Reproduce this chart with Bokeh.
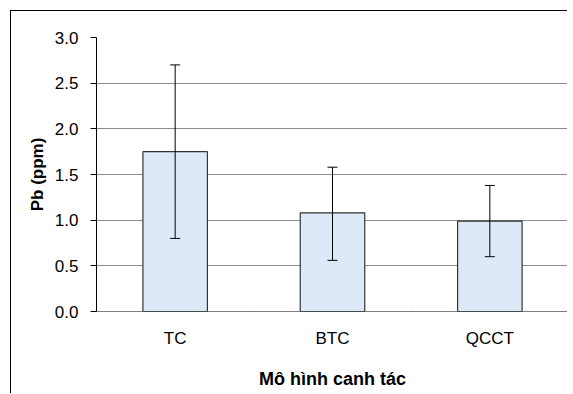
from bokeh.plotting import figure
from bokeh.models import ColumnDataSource, Whisker, FixedTicker, LinearAxis, Range1d, CustomJSTickFormatter
from bokeh.embed import file_html
from bokeh.resources import INLINE

categories = ["TC", "BTC", "QCCT"]
means = [1.75, 1.08, 0.99]
upper = [2.70, 1.58, 1.38]
lower = [0.80, 0.56, 0.60]
y_ticks = [0.0, 0.5, 1.0, 1.5, 2.0, 2.5, 3.0]
y_label = "Pb (ppm)"
x_label = "Mô hình canh tác"

xpos = [i + 0.5 for i in range(len(categories))]
src = ColumnDataSource(dict(x=xpos, top=means, upper=upper, lower=lower, cat=categories))

FONT = "Liberation Sans"

p = figure(width=557, height=383, output_backend="svg", toolbar_location=None,
           x_range=Range1d(0, len(categories)), y_range=Range1d(0, 3.0),
           min_border_left=85, min_border_right=0, min_border_top=26, min_border_bottom=83,
           x_axis_location=None)
p.styles = {"border-left": "1px solid black", "border-top": "1px solid black",
            "margin-left": "10px", "margin-top": "10px"}
p.outline_line_color = None
p.background_fill_color = "white"
p.border_fill_color = "white"

p.vbar(x="x", top="top", width=0.41, source=src, fill_color="#dde9f6",
       line_color="#333333", line_width=1.2)
w = Whisker(source=src, base="x", upper="upper", lower="lower", line_color="black",
            line_width=1, level="overlay")
w.upper_head.size = 10
w.lower_head.size = 10
w.upper_head.line_color = "black"
w.lower_head.line_color = "black"
p.add_layout(w)

# y axis
p.yaxis.ticker = FixedTicker(ticks=y_ticks)
p.yaxis.formatter = CustomJSTickFormatter(code="return tick.toFixed(1);")
p.yaxis.minor_tick_line_color = None
p.yaxis.major_tick_out = 6
p.yaxis.major_tick_in = 0
p.yaxis.major_label_standoff = 12
p.yaxis.axis_line_color = "black"
p.yaxis.major_tick_line_color = "black"
p.yaxis.major_label_text_font = FONT
p.yaxis.major_label_text_font_size = "17px"
p.yaxis.major_label_text_color = "black"
p.yaxis.axis_label = y_label
p.yaxis.axis_label_text_font = FONT
p.yaxis.axis_label_text_font_style = "bold"
p.yaxis.axis_label_text_font_size = "17px"
p.yaxis.axis_label_text_color = "black"
p.yaxis.axis_label_standoff = 5

p.ygrid.ticker = FixedTicker(ticks=y_ticks[1:])
p.ygrid.grid_line_color = "#8c8c8c"
p.ygrid.grid_line_width = 1
p.xgrid.grid_line_color = None

# x axis: boundary ticks
ax_ticks = LinearAxis(ticker=FixedTicker(ticks=list(range(len(categories) + 1))))
ax_ticks.major_label_text_font_size = "0px"
ax_ticks.major_label_text_color = None
ax_ticks.major_label_standoff = 0
ax_ticks.major_tick_out = 6
ax_ticks.major_tick_in = 0
ax_ticks.minor_tick_line_color = None
ax_ticks.axis_line_color = "black"
ax_ticks.major_tick_line_color = "black"
ax_ticks.fixed_location = 0
p.add_layout(ax_ticks, "below")

# x axis: category labels
ax_lab = LinearAxis(ticker=FixedTicker(ticks=xpos),
                    major_label_overrides={xv: c for xv, c in zip(xpos, categories)})
ax_lab.axis_line_color = None
ax_lab.major_tick_line_color = None
ax_lab.minor_tick_line_color = None
ax_lab.major_tick_out = 0
ax_lab.major_tick_in = 0
ax_lab.major_label_standoff = 17
ax_lab.major_label_text_font = FONT
ax_lab.major_label_text_font_size = "17px"
ax_lab.major_label_text_color = "black"
ax_lab.axis_label = x_label
ax_lab.axis_label_text_font = FONT
ax_lab.axis_label_text_font_style = "bold"
ax_lab.axis_label_text_font_size = "18px"
ax_lab.axis_label_text_color = "black"
ax_lab.axis_label_standoff = 18
p.add_layout(ax_lab, "below")

open("out.html", "w").write(file_html(p, INLINE))
